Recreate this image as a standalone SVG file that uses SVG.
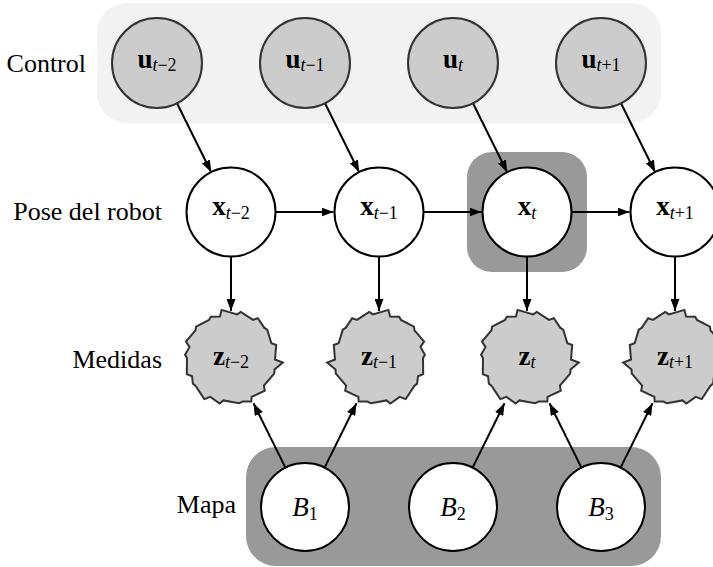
<svg xmlns="http://www.w3.org/2000/svg" width="713" height="567" viewBox="0 0 713 567">
<style>
.lbl{font-family:"Liberation Serif","Times New Roman",Times,"DejaVu Serif",serif;font-size:26px;fill:#000}
.math{font-family:"Liberation Serif","Times New Roman",Times,"DejaVu Serif",serif;font-size:27px;fill:#000}
.b{font-weight:bold}
.it{font-style:italic}
.sub{font-size:18px}
.ctl{fill:#cccccc;stroke:#333333;stroke-width:2}
.pose{fill:#ffffff;stroke:#000000;stroke-width:2}
.meas{fill:#cccccc;stroke:#333333;stroke-width:2;stroke-linejoin:miter}
.map{fill:#ffffff;stroke:#000000;stroke-width:2}
.edge{stroke:#000000;stroke-width:2;fill:none;marker-end:url(#arr)}
</style>
<defs>
<marker id="arr" markerUnits="userSpaceOnUse" markerWidth="13" markerHeight="9" refX="12" refY="4.5" orient="auto">
<path d="M0,0 L12,4.5 L0,9 z" fill="#000"/>
</marker>
<path id="jag" d="M44,0 L44.2,16.1 L39,18.2 L38.1,25.7 L35.5,27.7 L26.7,41.1 L20.6,38.9 L11.4,45.6 L7.5,42.4 L-8,45.3 L-11.7,43.5 L-20.3,43.5 L-20.6,38.9 L-33.8,32.7 L-32.9,27.6 L-43.2,15.7 L-43.5,11.6 L-51.8,4.5 L-44,1.5 L-45.2,-13 L-40.4,-14.7 L-36.2,-28.3 L-33.4,-30.1 L-26.8,-39.8 L-22,-38.1 L-9.8,-46 L-6.1,-43.6 L9.4,-48.1 L11.1,-41.5 L20.2,-41.3 L22,-38.1 L34.9,-31.4 L35.5,-27.7 L45.1,-16.4 L41.5,-11.1 L45.9,-3.2 Z"/>
</defs>

<!-- backgrounds -->
<rect x="97" y="3" width="564" height="120" rx="30" fill="#f2f2f2"/>
<rect x="467" y="152" width="120" height="120" rx="25" fill="#999999"/>
<rect x="246" y="447" width="415" height="119" rx="30" fill="#999999"/>

<!-- row labels -->
<text class="lbl" x="86" y="72" text-anchor="end">Control</text>
<text class="lbl" x="162" y="220" text-anchor="end">Pose del robot</text>
<text class="lbl" x="162" y="368" text-anchor="end">Medidas</text>
<text class="lbl" x="236" y="513" text-anchor="end">Mapa</text>

<!-- connectors -->
<g id="connectors">
<path class="edge" d="M177,103.3 L211.2,172.2"/>
<path class="edge" d="M325,103.3 L359.2,172.2"/>
<path class="edge" d="M473,103.3 L507.2,172.2"/>
<path class="edge" d="M621,103.3 L655.2,172.2"/>
<path class="edge" d="M275.5,212 L333.5,212"/>
<path class="edge" d="M423.5,212 L481.5,212"/>
<path class="edge" d="M571.5,212 L629.5,212"/>
<path class="edge" d="M231,256.5 L231,311"/>
<path class="edge" d="M379,256.5 L379,311"/>
<path class="edge" d="M527,256.5 L527,311"/>
<path class="edge" d="M675,256.5 L675,311"/>
<path class="edge" d="M285.4,467.6 L253.5,403.3"/>
<path class="edge" d="M324.6,467.6 L356.5,403.3"/>
<path class="edge" d="M472.6,467.6 L504.5,403.3"/>
<path class="edge" d="M581.4,467.6 L549.5,403.3"/>
<path class="edge" d="M620.6,467.6 L652.5,403.3"/>
</g>

<!-- control nodes -->
<g id="u_tm2"><circle class="ctl" cx="157" cy="63" r="45"/><text class="math" x="157" y="68" text-anchor="middle"><tspan class="b">u</tspan><tspan class="sub" dy="3"><tspan class="it">t</tspan>−2</tspan></text></g>
<g id="u_tm1"><circle class="ctl" cx="305" cy="63" r="45"/><text class="math" x="305" y="68" text-anchor="middle"><tspan class="b">u</tspan><tspan class="sub" dy="3"><tspan class="it">t</tspan>−1</tspan></text></g>
<g id="u_t"><circle class="ctl" cx="453" cy="63" r="45"/><text class="math" x="453" y="68" text-anchor="middle"><tspan class="b">u</tspan><tspan class="sub it" dy="3">t</tspan></text></g>
<g id="u_tp1"><circle class="ctl" cx="601" cy="63" r="45"/><text class="math" x="601" y="68" text-anchor="middle"><tspan class="b">u</tspan><tspan class="sub" dy="3"><tspan class="it">t</tspan>+1</tspan></text></g>

<!-- pose nodes -->
<g id="x_tm2"><circle class="pose" cx="231" cy="212" r="44.5"/><text class="math" x="231" y="215" text-anchor="middle"><tspan class="b">x</tspan><tspan class="sub" dy="4"><tspan class="it">t</tspan>−2</tspan></text></g>
<g id="x_tm1"><circle class="pose" cx="379" cy="212" r="44.5"/><text class="math" x="379" y="215" text-anchor="middle"><tspan class="b">x</tspan><tspan class="sub" dy="4"><tspan class="it">t</tspan>−1</tspan></text></g>
<g id="x_t"><circle class="pose" cx="527" cy="212" r="44.5"/><text class="math" x="527" y="215" text-anchor="middle"><tspan class="b">x</tspan><tspan class="sub it" dy="4">t</tspan></text></g>
<g id="x_tp1"><circle class="pose" cx="675" cy="212" r="44.5"/><text class="math" x="675" y="215" text-anchor="middle"><tspan class="b">x</tspan><tspan class="sub" dy="4"><tspan class="it">t</tspan>+1</tspan></text></g>

<!-- measurement nodes -->
<g id="z_tm2"><use href="#jag" class="meas" transform="translate(231,358) scale(-1,1)"/><text class="math" x="231" y="365" text-anchor="middle"><tspan class="b">z</tspan><tspan class="sub" dy="3"><tspan class="it">t</tspan>−2</tspan></text></g>
<g id="z_tm1"><use href="#jag" class="meas" transform="translate(379,358)"/><text class="math" x="379" y="365" text-anchor="middle"><tspan class="b">z</tspan><tspan class="sub" dy="3"><tspan class="it">t</tspan>−1</tspan></text></g>
<g id="z_t"><use href="#jag" class="meas" transform="translate(527,358) scale(-1,1)"/><text class="math" x="527" y="365" text-anchor="middle"><tspan class="b">z</tspan><tspan class="sub it" dy="3">t</tspan></text></g>
<g id="z_tp1"><use href="#jag" class="meas" transform="translate(675,358)"/><text class="math" x="675" y="365" text-anchor="middle"><tspan class="b">z</tspan><tspan class="sub" dy="3"><tspan class="it">t</tspan>+1</tspan></text></g>

<!-- map nodes -->
<g id="B1"><circle class="map" cx="305" cy="507" r="44"/><text class="math" x="305" y="516" text-anchor="middle"><tspan class="it">B</tspan><tspan class="sub" dy="4">1</tspan></text></g>
<g id="B2"><circle class="map" cx="453" cy="507" r="44"/><text class="math" x="453" y="516" text-anchor="middle"><tspan class="it">B</tspan><tspan class="sub" dy="4">2</tspan></text></g>
<g id="B3"><circle class="map" cx="601" cy="507" r="44"/><text class="math" x="601" y="516" text-anchor="middle"><tspan class="it">B</tspan><tspan class="sub" dy="4">3</tspan></text></g>
</svg>
